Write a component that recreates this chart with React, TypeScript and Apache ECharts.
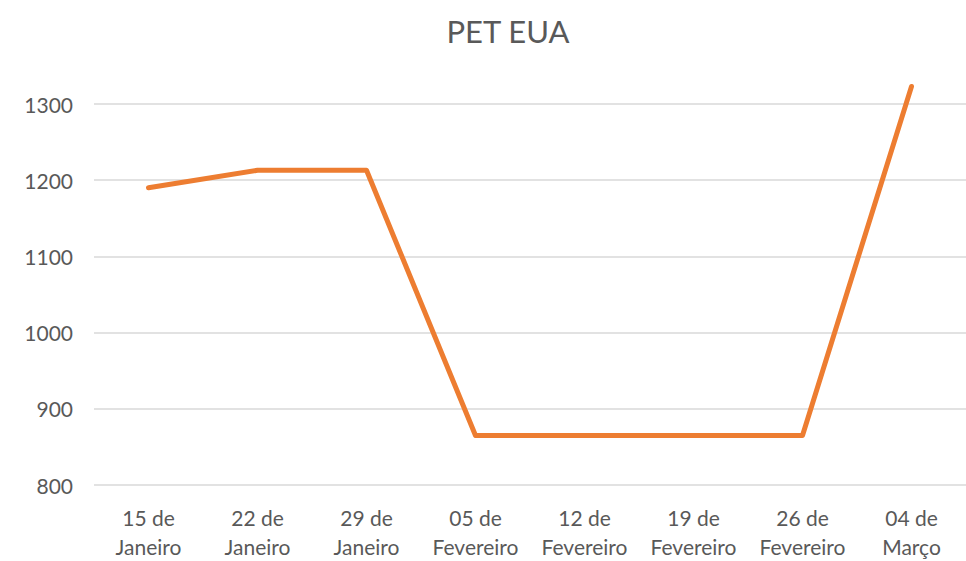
import React, { useEffect, useRef } from "react";
import * as echarts from "echarts";

const categories = [
  "15 de\nJaneiro",
  "22 de\nJaneiro",
  "29 de\nJaneiro",
  "05 de\nFevereiro",
  "12 de\nFevereiro",
  "19 de\nFevereiro",
  "26 de\nFevereiro",
  "04 de\nMarço",
];
const petEua = [1190, 1213, 1213, 865, 865, 865, 865, 1323];
const chartTitle = "PET EUA";

export default function App() {
  const ref = useRef<HTMLDivElement>(null);
  useEffect(() => {
    const chart = echarts.init(ref.current!, null, { renderer: "svg" });
    const font = "Lato, 'Open Sans', sans-serif";
    chart.setOption({
      animation: false,
      backgroundColor: "#ffffff",
      title: {
        text: chartTitle,
        left: 503,
        top: 10,
        textAlign: "center",
        textStyle: { fontFamily: font, fontSize: 31, fontWeight: "normal", color: "#595959" },
      },
      grid: { left: 94, right: 0, top: 104, bottom: 72, containLabel: false },
      xAxis: {
        type: "category",
        data: categories,
        boundaryGap: true,
        axisLine: { show: false },
        axisTick: { show: false },
        axisLabel: {
          color: "#595959",
          fontFamily: font,
          fontSize: 21,
          lineHeight: 29,
          margin: 18,
          interval: 0,
        },
      },
      yAxis: {
        type: "value",
        min: 800,
        max: 1300,
        interval: 100,
        axisLine: { show: false },
        axisTick: { show: false },
        splitLine: { lineStyle: { color: "#d9d9d9", width: 1.5 } },
        axisLabel: {
          color: "#595959",
          fontFamily: font,
          fontSize: 21,
          margin: 21,
          formatter: (v: number) => String(v),
        },
      },
      series: [
        {
          type: "line",
          data: petEua,
          symbol: "none",
          clip: false,
          lineStyle: { color: "#ED7D31", width: 5, cap: "round", join: "round" },
        },
      ],
    });
    return () => chart.dispose();
  }, []);
  return <div ref={ref} style={{ width: 966, height: 561, position: "absolute", left: 0, top: 0 }} />;
}
